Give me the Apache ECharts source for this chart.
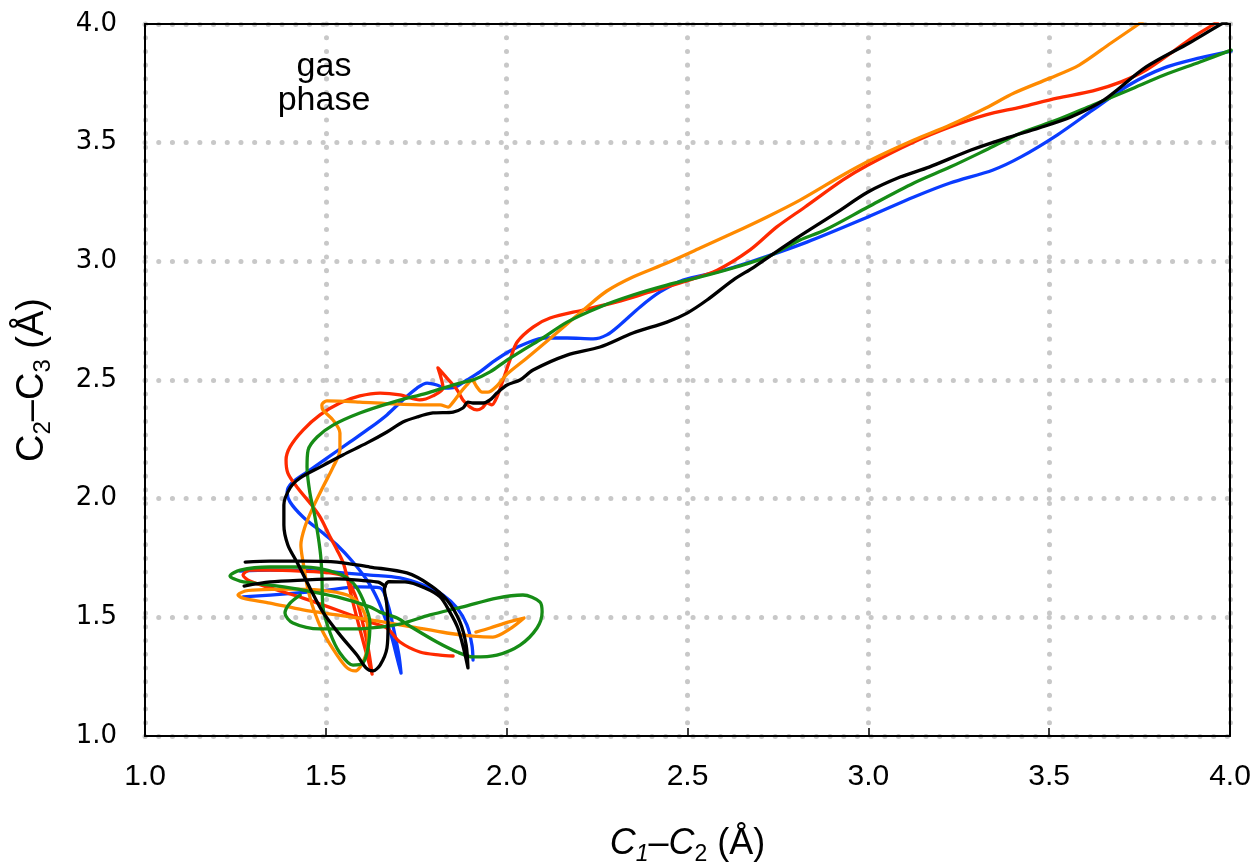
<!DOCTYPE html>
<html><head><meta charset="utf-8">
<script src="https://cdn.jsdelivr.net/npm/echarts@6/dist/echarts.min.js"></script>
<style>html,body{margin:0;padding:0;background:#fff}#c{width:1260px;height:866px}</style>
</head><body><div id="c"></div>
<script>
// x: C1–C2 (Å), y: C2–C3 (Å)
const blueA = [[1.907,1.320],[1.904,1.383],[1.890,1.468],[1.863,1.539],[1.824,1.594],[1.769,1.636],[1.705,1.666],[1.622,1.678],[1.484,1.695],[1.346,1.699],[1.263,1.695]];
const blueB = [[1.271,1.586],[1.346,1.594],[1.484,1.611],[1.594,1.628],[1.650,1.624],[1.672,1.552],[1.688,1.447],[1.702,1.341],[1.708,1.265],[1.697,1.329],[1.683,1.413],[1.666,1.489],[1.644,1.573],[1.617,1.649],[1.575,1.733],[1.531,1.805],[1.492,1.855],[1.437,1.923],[1.401,1.986],[1.393,2.028],[1.406,2.066],[1.448,2.112],[1.503,2.171],[1.567,2.239],[1.622,2.298],[1.669,2.353],[1.713,2.416],[1.752,2.466],[1.780,2.487],[1.807,2.479],[1.830,2.466],[1.857,2.470],[1.890,2.500],[1.926,2.534],[1.962,2.576],[2.009,2.622],[2.056,2.656],[2.106,2.677],[2.167,2.677],[2.239,2.673],[2.277,2.690],[2.313,2.732],[2.369,2.808],[2.424,2.871],[2.488,2.921],[2.582,2.955],[2.673,2.997],[2.830,3.081],[2.999,3.187],[3.126,3.271],[3.226,3.330],[3.345,3.385],[3.422,3.440],[3.522,3.532],[3.621,3.638],[3.721,3.743],[3.818,3.815],[3.917,3.857],[4.003,3.886]];
const red = [[1.852,1.337],[1.816,1.341],[1.760,1.354],[1.705,1.396],[1.669,1.455],[1.622,1.480],[1.531,1.531],[1.437,1.581],[1.346,1.624],[1.290,1.653],[1.271,1.678],[1.290,1.699],[1.346,1.699],[1.429,1.695],[1.512,1.687],[1.553,1.670],[1.581,1.594],[1.600,1.489],[1.617,1.371],[1.628,1.261],[1.611,1.354],[1.589,1.480],[1.570,1.594],[1.550,1.721],[1.531,1.784],[1.512,1.838],[1.484,1.923],[1.456,1.982],[1.420,2.049],[1.395,2.108],[1.390,2.163],[1.401,2.218],[1.437,2.289],[1.484,2.353],[1.539,2.403],[1.594,2.433],[1.650,2.445],[1.705,2.437],[1.760,2.416],[1.796,2.433],[1.824,2.466],[1.810,2.551],[1.835,2.508],[1.863,2.458],[1.879,2.416],[1.899,2.386],[1.918,2.374],[1.932,2.382],[1.946,2.403],[1.959,2.395],[1.973,2.428],[1.990,2.500],[2.009,2.584],[2.029,2.660],[2.073,2.723],[2.120,2.761],[2.211,2.795],[2.305,2.829],[2.396,2.871],[2.488,2.913],[2.582,2.963],[2.673,3.048],[2.747,3.145],[2.825,3.229],[2.930,3.343],[2.999,3.406],[3.126,3.503],[3.226,3.566],[3.325,3.617],[3.422,3.650],[3.522,3.688],[3.621,3.718],[3.699,3.756],[3.768,3.806],[3.848,3.890],[3.898,3.945],[3.956,4.000],[3.986,4.034]];
const orange = [[1.915,1.438],[1.954,1.455],[2.004,1.480],[2.048,1.497],[2.009,1.451],[1.962,1.417],[1.907,1.421],[1.835,1.434],[1.741,1.459],[1.677,1.476],[1.622,1.489],[1.531,1.510],[1.437,1.531],[1.346,1.560],[1.271,1.581],[1.257,1.594],[1.277,1.611],[1.299,1.615],[1.393,1.619],[1.484,1.615],[1.559,1.594],[1.594,1.552],[1.614,1.480],[1.617,1.396],[1.603,1.312],[1.581,1.274],[1.559,1.287],[1.531,1.341],[1.492,1.438],[1.465,1.539],[1.448,1.636],[1.437,1.733],[1.431,1.805],[1.442,1.881],[1.465,1.965],[1.492,2.049],[1.520,2.133],[1.539,2.205],[1.539,2.277],[1.520,2.331],[1.492,2.374],[1.489,2.395],[1.503,2.412],[1.594,2.407],[1.686,2.399],[1.780,2.395],[1.816,2.395],[1.838,2.386],[1.852,2.407],[1.871,2.445],[1.890,2.479],[1.904,2.500],[1.918,2.470],[1.932,2.449],[1.948,2.449],[1.973,2.475],[2.001,2.525],[2.056,2.593],[2.112,2.664],[2.167,2.736],[2.222,2.808],[2.277,2.875],[2.349,2.934],[2.443,2.993],[2.535,3.056],[2.626,3.119],[2.720,3.187],[2.811,3.258],[2.930,3.364],[3.007,3.427],[3.126,3.511],[3.226,3.574],[3.325,3.646],[3.403,3.709],[3.502,3.772],[3.583,3.827],[3.671,3.920],[3.748,4.000],[3.779,4.034]];
const green = [[1.429,1.594],[1.401,1.560],[1.387,1.518],[1.409,1.476],[1.484,1.451],[1.575,1.451],[1.650,1.459],[1.705,1.472],[1.788,1.510],[1.879,1.544],[1.973,1.581],[2.045,1.594],[2.092,1.565],[2.098,1.522],[2.084,1.455],[2.037,1.383],[1.973,1.341],[1.907,1.333],[1.863,1.354],[1.807,1.396],[1.741,1.455],[1.697,1.497],[1.650,1.522],[1.622,1.544],[1.531,1.586],[1.437,1.615],[1.346,1.636],[1.263,1.653],[1.235,1.674],[1.263,1.699],[1.346,1.712],[1.437,1.712],[1.531,1.687],[1.575,1.645],[1.603,1.573],[1.622,1.476],[1.617,1.375],[1.603,1.308],[1.575,1.299],[1.539,1.350],[1.512,1.434],[1.492,1.544],[1.489,1.687],[1.484,1.784],[1.470,1.923],[1.456,2.024],[1.448,2.133],[1.451,2.205],[1.476,2.260],[1.520,2.310],[1.594,2.361],[1.686,2.407],[1.780,2.445],[1.824,2.466],[1.871,2.487],[1.907,2.500],[1.954,2.534],[2.001,2.584],[2.045,2.626],[2.092,2.669],[2.167,2.744],[2.258,2.808],[2.349,2.858],[2.443,2.900],[2.535,2.934],[2.626,2.972],[2.720,3.018],[2.811,3.090],[2.880,3.132],[2.999,3.229],[3.126,3.330],[3.226,3.397],[3.325,3.469],[3.422,3.541],[3.522,3.596],[3.621,3.659],[3.721,3.722],[3.818,3.785],[3.917,3.840],[4.003,3.890]];
const blackA = [[1.277,1.733],[1.346,1.737],[1.437,1.737],[1.531,1.733],[1.622,1.712],[1.724,1.687],[1.788,1.636],[1.835,1.573],[1.871,1.480],[1.888,1.383],[1.893,1.287],[1.882,1.362],[1.865,1.455],[1.843,1.522],[1.816,1.586],[1.774,1.624],[1.719,1.649],[1.674,1.650],[1.662,1.618],[1.668,1.560],[1.672,1.468],[1.669,1.371],[1.650,1.299],[1.630,1.274],[1.611,1.287],[1.586,1.341],[1.539,1.426],[1.492,1.522],[1.456,1.624],[1.420,1.733],[1.395,1.805],[1.384,1.889],[1.384,1.973],[1.401,2.045],[1.429,2.087],[1.484,2.133],[1.547,2.184],[1.614,2.235],[1.669,2.281],[1.713,2.323],[1.752,2.344],[1.796,2.361],[1.852,2.365],[1.879,2.382],[1.893,2.407],[1.907,2.403],[1.935,2.403],[1.954,2.416],[1.973,2.445],[2.001,2.479],[2.037,2.500],[2.073,2.542],[2.167,2.605],[2.258,2.639],[2.349,2.698],[2.443,2.744],[2.499,2.782],[2.554,2.837],[2.626,2.921],[2.684,2.976],[2.781,3.077],[2.911,3.204],[2.999,3.292],[3.088,3.355],[3.168,3.397],[3.284,3.469],[3.383,3.520],[3.472,3.562],[3.560,3.608],[3.652,3.680],[3.768,3.819],[3.887,3.920],[3.986,4.008],[4.020,4.030]];
const blackB = [[1.274,1.632],[1.346,1.649],[1.437,1.657],[1.531,1.662],[1.603,1.655],[1.645,1.648],[1.664,1.630]];

const axisMin = 1.0, axisMax = 4.0, axisStep = 0.5;
const annotation = {text: 'gas\nphase', at: [1.495, 3.749]};

const COLORS = {blue: '#0a3cff', red: '#ff2a00', orange: '#ff8a00', green: '#168c16', black: '#000000'};
const traces = [
  {data: blueA, color: COLORS.blue},
  {data: blueB, color: COLORS.blue},
  {data: red, color: COLORS.red},
  {data: orange, color: COLORS.orange},
  {data: green, color: COLORS.green},
  {data: blackA, color: COLORS.black},
  {data: blackB, color: COLORS.black}
];

const chart = echarts.init(document.getElementById('c'), null, {renderer: 'canvas'});
const splitLine = {show: true, lineStyle: {color: '#c8c8c8', width: 5, type: [0.1, 13.6], cap: 'round'}};
const subRich = (fs, italic) => ({
  n: {fontFamily: 'Liberation Sans', fontSize: fs, lineHeight: 44, color: '#000', verticalAlign: 'middle'},
  i: {fontFamily: 'Liberation Sans', fontSize: fs, fontStyle: italic ? 'italic' : 'normal', lineHeight: 44, color: '#000', verticalAlign: 'middle'},
  s: {fontFamily: 'Liberation Sans', fontSize: Math.round(fs * 0.64), fontStyle: italic ? 'italic' : 'normal', lineHeight: 25, color: '#000', verticalAlign: 'bottom'},
  s2: {fontFamily: 'Liberation Sans', fontSize: Math.round(fs * 0.64), lineHeight: 25, color: '#000', verticalAlign: 'bottom'}
});
const frameAxis = {
  min: axisMin, max: axisMax, interval: axisStep, type: 'value', z: 20,
  axisLine: {show: true, onZero: false, lineStyle: {color: '#000', width: 2}},
  axisTick: {show: false}, axisLabel: {show: false}, splitLine: {show: false}
};

chart.setOption({
  animation: false,
  backgroundColor: '#ffffff',
  grid: {left: 145, right: 30, top: 24, bottom: 130, containLabel: false, outerBoundsMode: 'none'},
  xAxis: [{
    type: 'value', min: axisMin, max: axisMax, interval: axisStep, z: 0,
    axisLine: {show: true, onZero: false, lineStyle: {color: '#000', width: 2}},
    axisTick: {show: true, inside: true, length: 8, lineStyle: {color: '#000', width: 1.5}},
    axisLabel: {margin: 26, color: '#000', fontSize: 30, lineHeight: 30,
      fontFamily: '"Liberation Sans Narrow", "Arial Narrow", "Liberation Sans", sans-serif',
      formatter: v => v.toFixed(1)},
    splitLine: splitLine,
    name: '{i|C}{s|1}{n|–}{i|C}{s2|2}{n| (Å)}',
    nameLocation: 'middle', nameGap: 86,
    nameTextStyle: {rich: subRich(36, true)}
  }, Object.assign({position: 'top'}, frameAxis)],
  yAxis: [{
    type: 'value', min: axisMin, max: axisMax, interval: axisStep, z: 0,
    axisLine: {show: true, onZero: false, lineStyle: {color: '#000', width: 2}},
    axisTick: {show: false},
    axisLabel: {margin: 28, color: '#000', fontSize: 26, fontFamily: '"DejaVu Sans", sans-serif',
      padding: [7, 0, 0, 0], formatter: v => v.toFixed(1)},
    splitLine: splitLine,
    name: '{n|C}{s2|2}{n|–C}{s2|3}{n| (Å)}',
    nameLocation: 'middle', nameGap: 90,
    nameTextStyle: {rich: subRich(38, false)}
  }, Object.assign({position: 'right'}, frameAxis)],
  series: traces.map((t, k) => ({
    type: 'line', data: t.data, showSymbol: false, symbol: 'none', smooth: 0.3,
    lineStyle: {color: t.color, width: 3.3, cap: 'round', join: 'round'},
    itemStyle: {color: t.color}, z: 2 + k, silent: true
  }))
});

const p = chart.convertToPixel({gridIndex: 0}, annotation.at);
chart.setOption({
  graphic: [{type: 'text', x: p[0], y: p[1], z: 100,
    style: {text: annotation.text, fontFamily: 'Liberation Sans', fontSize: 34, lineHeight: 34,
      fill: '#000', align: 'center', verticalAlign: 'middle'}}]
});
</script></body></html>
